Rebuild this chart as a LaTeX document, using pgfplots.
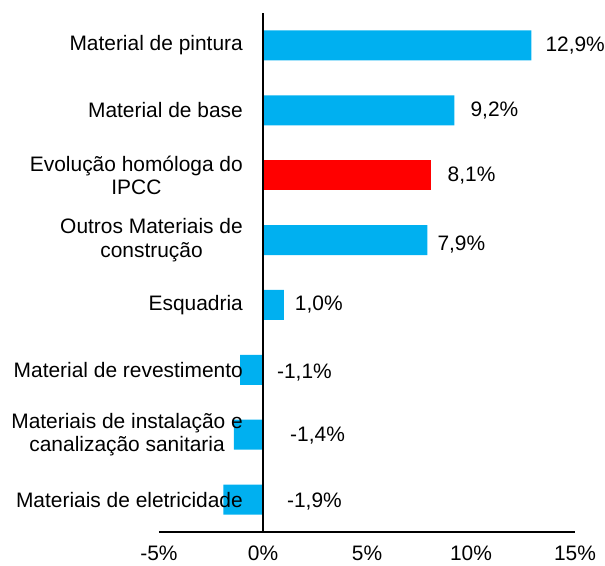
\documentclass[border=0pt]{standalone}
\usepackage{pgfplots}
\pgfplotsset{compat=1.18}
\usepackage{fontspec}
\setmainfont{Liberation Sans}
\definecolor{barblue}{HTML}{00B0F0}
\definecolor{barred}{HTML}{FF0000}
\newcommand{\lf}{\fontsize{21}{23.5}\selectfont}
\begin{document}
\begin{tikzpicture}
\begin{axis}[
 scale only axis, width=416bp, height=519bp,
 xmin=-5, xmax=15, ymin=-0.5, ymax=7.5, y dir=reverse,
 axis x line=bottom, axis y line=center,
 axis line style={-, black, line width=1.2bp},
 axis on top=true,
 hide obscured x ticks=false, hide obscured y ticks=false,
 xtick={-5,0,5,10,15}, xticklabels={-5\%,0\%,5\%,10\%,15\%},
 ytick={0,...,7},
 yticklabels={Material de pintura, Material de base, {Evolução homóloga do\\IPCC}, {Outros Materiais de\\construção}, Esquadria, Material de revestimento, {Materiais de instalação e\\canalização sanitaria}, Materiais de eletricidade},
 major tick length=0pt,
 tick label style={font=\lf},
 yticklabel style={align=center, anchor=east, inner sep=0pt, xshift=-20bp},
 xticklabel style={anchor=north, inner sep=0pt, yshift=-14bp},
 xbar, bar width=30bp, bar shift=0pt,
 clip=false,
]
\addplot[fill=barblue, draw=none] coordinates {(12.9,0) (9.2,1) (7.9,3) (1.0,4) (-1.1,5) (-1.4,6) (-1.9,7)};
\addplot[fill=barred, draw=none] coordinates {(8.1,2)};
\node[anchor=west, inner sep=0pt, font=\lf, xshift=14bp] at (axis cs:12.9,0) {12,9\%};
\node[anchor=west, inner sep=0pt, font=\lf, xshift=16bp] at (axis cs:9.2,1) {9,2\%};
\node[anchor=west, inner sep=0pt, font=\lf, xshift=16bp] at (axis cs:8.1,2) {8,1\%};
\node[anchor=west, inner sep=0pt, font=\lf, xshift=10bp, yshift=-4bp] at (axis cs:7.9,3) {7,9\%};
\node[anchor=west, inner sep=0pt, font=\lf, xshift=11bp] at (axis cs:1.0,4) {1,0\%};
\node[anchor=west, inner sep=0pt, font=\lf, yshift=-3bp] at (axis cs:0.67,5) {-1,1\%};
\node[anchor=west, inner sep=0pt, font=\lf, yshift=-1bp] at (axis cs:1.3,6) {-1,4\%};
\node[anchor=west, inner sep=0pt, font=\lf, yshift=-2bp] at (axis cs:1.15,7) {-1,9\%};
\end{axis}
\pgfresetboundingbox
\path[use as bounding box] (-159bp,-34bp) rectangle (446bp,532bp);
\end{tikzpicture}
\end{document}
